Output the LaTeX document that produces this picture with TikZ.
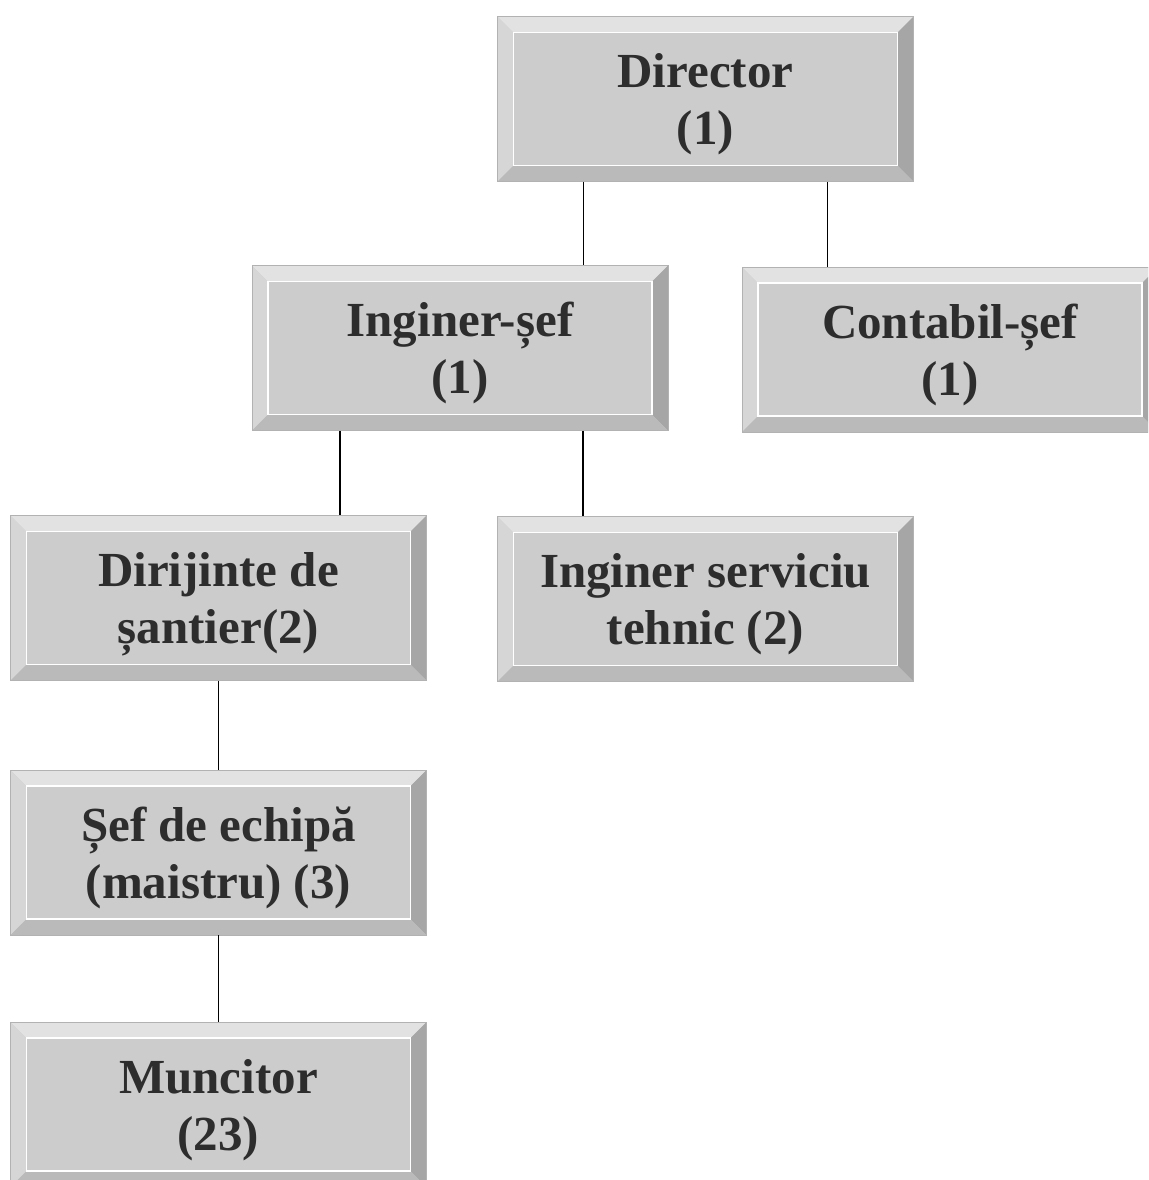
\documentclass[tikz,border=0pt]{standalone}
\usepackage{fontspec}
\setmainfont{Liberation Serif}
\usetikzlibrary{positioning}
\definecolor{boxface}{RGB}{204,204,204}
\definecolor{boxtop}{RGB}{226,226,226}
\definecolor{boxleft}{RGB}{214,214,214}
\definecolor{boxright}{RGB}{166,166,166}
\definecolor{boxbottom}{RGB}{186,186,186}
\definecolor{inktext}{RGB}{45,45,45}
\tikzset
{
    postbox/.style = {rectangle, fill=boxface, draw=gray!60, line width=0.4pt, minimum width=208pt, minimum height=82.5pt, align=center, inner sep=0pt, text=inktext, font=\fontsize{24.5}{28.5}\selectfont\bfseries, text depth=0pt,
        path picture={
            \path (path picture bounding box.north west) coordinate (pnw) (path picture bounding box.south east) coordinate (pse);
            \fill[boxtop] (pnw) -- (pnw -| pse) -- ([shift={(-8pt,-8pt)}]pnw -| pse) -- ([shift={(8pt,-8pt)}]pnw) -- cycle;
            \fill[boxleft] (pnw) -- ([shift={(8pt,-8pt)}]pnw) -- ([shift={(8pt,8pt)}]pnw |- pse) -- (pnw |- pse) -- cycle;
            \fill[boxright] (pse) -- (pse |- pnw) -- ([shift={(-8pt,-8pt)}]pse |- pnw) -- ([shift={(-8pt,8pt)}]pse) -- cycle;
            \fill[boxbottom] (pse) -- (pnw |- pse) -- ([shift={(8pt,8pt)}]pnw |- pse) -- ([shift={(-8pt,8pt)}]pse) -- cycle;
            \draw[white, line width=0.8pt] ([shift={(8pt,-8pt)}]pnw) rectangle ([shift={(-8pt,8pt)}]pse);
        }},
    link/.style = {draw=black, line width=0.7pt}
}

\begin{document}
\begin{tikzpicture}[x=0.5pt, y=-0.5pt]
\clip (0,0) rectangle (1148,1180);
\fill[white] (0,0) rectangle (1148,1180);
\node [postbox] at (705.5,99) (dir) {Director\\(1)};
\node [postbox] at (460,348) (ing) {Inginer-șef\\(1)};
\node [postbox] at (950,349.5) (cont) {Contabil-șef\\(1)};
\node [postbox] at (218.5,598) (dirij) {Dirijinte de\\șantier(2)};
\node [postbox] at (705.5,599) (serv) {Inginer serviciu\\tehnic (2)};
\node [postbox] at (218.5,852.5) (sef) {Șef de echipă\\(maistru) (3)};
\node [postbox] at (218.5,1104.5) (munc) {Muncitor\\(23)};
\draw [link] ([xshift=-61pt]dir.south) -- ([xshift=-61pt]dir.south |- ing.north);
\draw [link] ([xshift=61pt]dir.south) -- ([xshift=61pt]dir.south |- cont.north);
\draw [link] ([xshift=-60pt]ing.south) -- ([xshift=-60pt]ing.south |- dirij.north);
\draw [link] ([xshift=61.5pt]ing.south) -- ([xshift=61.5pt]ing.south |- serv.north);
\draw [link] (dirij) -- (sef);
\draw [link] (sef) -- (munc);
\end{tikzpicture}
\end{document}
